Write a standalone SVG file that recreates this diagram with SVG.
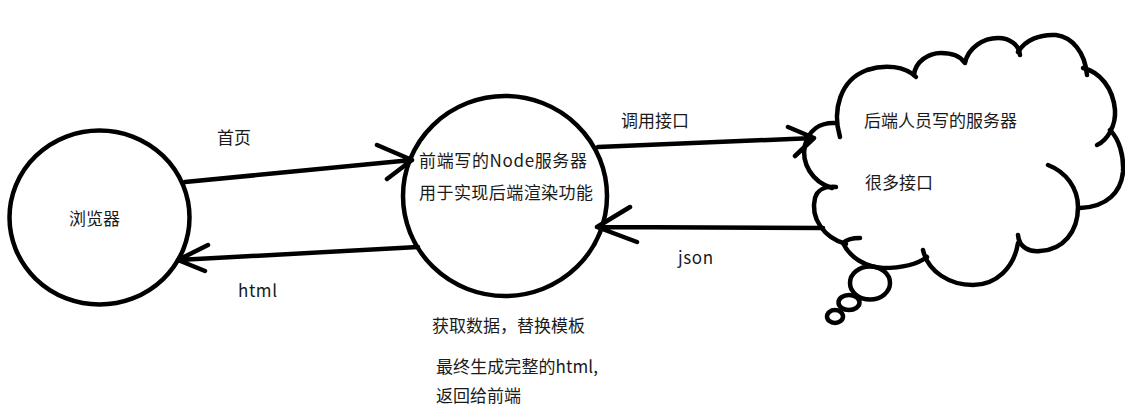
<svg xmlns="http://www.w3.org/2000/svg" width="1125" height="413" viewBox="0 0 1125 413">
<style>
.s{fill:none;stroke:#000;stroke-width:4.5;stroke-linecap:round;stroke-linejoin:round}
.t{font-family:"Noto Sans CJK SC","Microsoft YaHei",sans-serif;font-size:17px;fill:#1a1a1a}
</style>
<rect width="1125" height="413" fill="#fff"/>
<g id="browser">
<ellipse class="s" cx="99.5" cy="217.5" rx="90" ry="87"/>
<text class="t" x="69" y="225">浏览器</text>
</g>
<g id="node-server">
<ellipse class="s" cx="505" cy="196" rx="102" ry="100"/>
<text class="t" x="419" y="166.5" textLength="168" lengthAdjust="spacing">前端写的Node服务器</text>
<text class="t" x="419" y="198.5" textLength="174" lengthAdjust="spacing">用于实现后端渲染功能</text>
</g>
<g id="backend-server">
<path class="s" d="M840,137 C832,110 840,80 867,70 C885,64 905,66 916,77"/>
<path class="s" d="M914,75 C915,62 928,53 941,53 C952,53 960,56 964,62"/>
<path class="s" d="M965,63 C968,48 983,38 998,38 C1010,38 1019,45 1020,55"/>
<path class="s" d="M1018,52 C1025,40 1040,34 1056,35 C1072,37 1085,52 1087,75"/>
<path class="s" d="M1083,68 C1100,72 1113,88 1115,110 C1116,125 1108,140 1097,145"/>
<path class="s" d="M1110,130 C1119,139 1124,155 1123,172 C1121,192 1107,207 1080,208"/>
<path class="s" d="M1048,165 C1066,172 1078,188 1078,207 C1078,232 1063,250 1040,251 C1030,252 1019,248 1018,235"/>
<path class="s" d="M1018,243 C1014,268 996,285 973,285 C950,285 928,272 923,250"/>
<path class="s" d="M927,257 C915,266 900,268 883,268 C866,267 850,258 843,243 Q848,238 860,238"/>
<path class="s" d="M846,244 C824,238 810,218 815,198 C817,190 825,186 836,187"/>
<path class="s" d="M832,188 C812,182 801,163 805,145 C809,130 820,122 836,123"/>
<ellipse class="s" cx="870" cy="283" rx="20" ry="16.5"/>
<ellipse class="s" cx="849" cy="302.5" rx="10.5" ry="7.5"/>
<ellipse class="s" cx="835" cy="316.5" rx="8" ry="6.5"/>
<text class="t" x="864" y="126.5">后端人员写的服务器</text>
<text class="t" x="865" y="188.5">很多接口</text>
</g>
<g id="connectors">
<path class="s" d="M185,182 L412,160 M377,145 L412,160 L387,179"/>
<path class="s" d="M418,247 L178,260 M208,245 L178,260 L205,271"/>
<path class="s" d="M598,147 L814,138 M788,127 L814,138 L795,156"/>
<path class="s" d="M823,228 L597,227 M630,207 L597,227 L637,242"/>
</g>
<g id="labels">
<text class="t" x="217" y="143.5">首页</text>
<text class="t" x="238" y="297" textLength="39" lengthAdjust="spacing">html</text>
<text class="t" x="621" y="126.5">调用接口</text>
<text class="t" x="678" y="264" textLength="35" lengthAdjust="spacing">json</text>
<text class="t" x="432" y="331.5">获取数据，替换模板</text>
<text class="t" x="436" y="372.5" textLength="162" lengthAdjust="spacing">最终生成完整的html,</text>
<text class="t" x="436" y="401.5">返回给前端</text>
</g>
</svg>
